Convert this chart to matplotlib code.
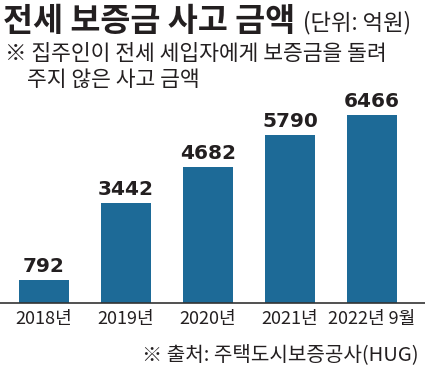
import matplotlib
matplotlib.use("Agg")
import matplotlib.pyplot as plt

plt.rcParams['font.family'] = ['Noto Sans CJK KR', 'DejaVu Sans']

years = ['2018년', '2019년', '2020년', '2021년', '2022년 9월']
amounts = [792, 3442, 4682, 5790, 6466]

title = '전세 보증금 사고 금액'
unit = '(단위: 억원)'
note1 = '※ 집주인이 전세 세입자에게 보증금을 돌려'
note2 = '주지 않은 사고 금액'
source = '※ 출처: 주택도시보증공사(HUG)'

bar_color = '#1d6a97'
text_color = '#231f20'

W, H = 425, 378
fig = plt.figure(figsize=(W / 100, H / 100), dpi=100)
fig.patch.set_facecolor('white')

# axes spans the whole width, baseline at y=303px from top
ax = fig.add_axes([0, 75 / H, 1, 203.5 / H])
x = list(range(len(years)))
ax.bar(x, amounts, width=0.62, color=bar_color)
ax.set_xlim(-44 / 82, (425 - 44) / 82)
ax.set_ylim(0, 7000)
for xi, v in zip(x, amounts):
    ax.text(xi, v + 130, f'{v}', ha='center', va='bottom', fontsize=14.5,
            fontweight='bold', color=text_color, family='DejaVu Sans')

for s in ['top', 'right', 'left']:
    ax.spines[s].set_visible(False)
ax.spines['bottom'].set_color('#333333')
ax.spines['bottom'].set_linewidth(1.2)
ax.set_yticks([])
ax.set_xticks(x)
ax.set_xticklabels(years, fontsize=13, color=text_color)
ax.tick_params(axis='x', length=0, pad=5)
ax.patch.set_alpha(0)

fig.text(3 / W, 1 - 22 / H, title, fontsize=23.5, fontweight='black',
         color=text_color, va='center', ha='left')
fig.text(303 / W, 1 - 23 / H, unit, fontsize=16, color=text_color,
         va='center', ha='left')
fig.text(5 / W, 1 - 54 / H, note1, fontsize=15.5, color=text_color,
         va='center', ha='left')
fig.text(27 / W, 1 - 80 / H, note2, fontsize=15.5, color=text_color,
         va='center', ha='left')
fig.text(419 / W, 1 - 355 / H, source, fontsize=14.5, color=text_color,
         va='center', ha='right')

fig.savefig('out.png', dpi=100)
